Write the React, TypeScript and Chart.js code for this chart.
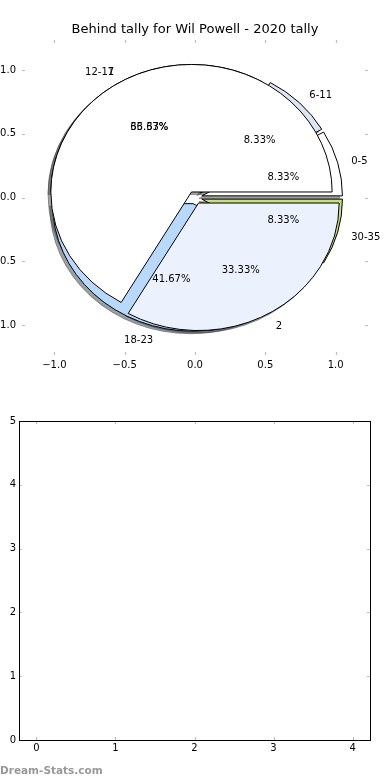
import React, { useEffect, useRef } from 'react';
import { Chart, registerables } from 'chart.js';

Chart.register(...registerables);
Chart.defaults.font.family = "'DejaVu Sans', sans-serif";
Chart.defaults.color = '#000';

const TITLE = 'Behind tally for Wil Powell - 2020 tally';
const AGE_LABELS = ['0-5', '6-11', '12-17', '18-23', '30-35'];
const AGE_VALUES = [1, 1, 4, 5, 1];
const AGE_COLORS = ['#ffffff', '#dbe5f4', '#f2f2f2', '#b8d8fc', '#c8e084'];
const TALLY_LABELS = ['1', '2'];
const TALLY_VALUES = [8, 4];
const TALLY_COLORS = ['#ffffff', '#ebf2fd'];
const EXPLODE = 0.05;
const PIE_TICKS = [-1.0, -0.5, 0.0, 0.5, 1.0];
const EMPTY_X_TICKS = [0, 1, 2, 3, 4];
const EMPTY_Y_TICKS = [0, 1, 2, 3, 4, 5];
const WATERMARK = 'Dream-Stats.com';

const FONT = "'DejaVu Sans', sans-serif";

function hexToRgb(h: string) {
  const n = parseInt(h.slice(1), 16);
  return [(n >> 16) & 255, (n >> 8) & 255, n & 255];
}

const innerTicksPlugin = (len: number, frame: boolean) => ({
  id: 'innerTicks',
  afterDraw(chart: any) {
    const { ctx, chartArea: a, scales } = chart;
    const x = scales.x;
    const y = scales.y;
    ctx.save();
    ctx.strokeStyle = '#bdbdbd';
    ctx.lineWidth = 1.2;
    ctx.beginPath();
    x.ticks.forEach((t: any) => {
      const p = Math.round(x.getPixelForValue(t.value)) + 0.5;
      ctx.moveTo(p, a.top);
      ctx.lineTo(p, a.top + len);
      ctx.moveTo(p, a.bottom);
      ctx.lineTo(p, a.bottom - len);
    });
    y.ticks.forEach((t: any) => {
      const p = Math.round(y.getPixelForValue(t.value)) + 0.5;
      ctx.moveTo(a.left, p);
      ctx.lineTo(a.left + len, p);
      ctx.moveTo(a.right, p);
      ctx.lineTo(a.right - len, p);
    });
    ctx.stroke();
    if (frame) {
      ctx.strokeStyle = '#000';
      ctx.lineWidth = 1;
      ctx.strokeRect(Math.round(a.left) + 0.5, Math.round(a.top) + 0.5, Math.round(a.right - a.left), Math.round(a.bottom - a.top));
    }
    ctx.restore();
  },
});

const piePlugin = {
  id: 'ellipsePies',
  afterDatasetsDraw(chart: any) {
    const { ctx, scales } = chart;
    const x = scales.x;
    const y = scales.y;
    const pies = [
      { values: AGE_VALUES, colors: AGE_COLORS, labels: AGE_LABELS },
      { values: TALLY_VALUES, colors: TALLY_COLORS, labels: TALLY_LABELS },
    ];
    const all: any[] = [];
    pies.forEach((p) => {
      const total = p.values.reduce((s, v) => s + v, 0);
      let a = 0;
      const ws: any[] = [];
      p.values.forEach((v, i) => {
        const a1 = a;
        const a2 = a + (360 * v) / total;
        a = a2;
        const mid = ((a1 + a2) / 2) * Math.PI / 180;
        ws.push({
          a1: (a1 * Math.PI) / 180,
          a2: (a2 * Math.PI) / 180,
          mid,
          ox: EXPLODE * Math.cos(mid),
          oy: EXPLODE * Math.sin(mid),
          color: p.colors[i],
          label: p.labels[i],
          pct: (100 * v) / total,
        });
      });
      all.push(ws);
    });
    const path = (w: any, dx: number, dy: number) => {
      const cx = x.getPixelForValue(w.ox + dx);
      const cy = y.getPixelForValue(w.oy + dy);
      const rx = x.getPixelForValue(w.ox + dx + 1) - cx;
      const ry = cy - y.getPixelForValue(w.oy + dy + 1);
      ctx.beginPath();
      ctx.moveTo(cx, cy);
      ctx.ellipse(cx, cy, rx, ry, 0, -w.a1, -w.a2, true);
      ctx.closePath();
    };
    ctx.save();
    ctx.lineJoin = 'miter';
    all.forEach((ws) =>
      ws.forEach((w: any) => {
        const [r, g, b] = hexToRgb(w.color);
        const c = `rgba(${Math.round(r * 0.3)},${Math.round(g * 0.3)},${Math.round(b * 0.3)},0.5)`;
        path(w, -0.02, -0.02);
        ctx.fillStyle = c;
        ctx.fill();
        ctx.strokeStyle = c;
        ctx.lineWidth = 1;
        ctx.stroke();
      })
    );
    all.forEach((ws) =>
      ws.forEach((w: any) => {
        path(w, 0, 0);
        ctx.fillStyle = w.color;
        ctx.fill();
        ctx.strokeStyle = '#000';
        ctx.lineWidth = 1;
        ctx.stroke();
      })
    );
    ctx.fillStyle = '#000';
    ctx.font = `10px ${FONT}`;
    ctx.textBaseline = 'middle';
    const dyText = 1.5;
    all.forEach((ws) =>
      ws.forEach((w: any) => {
        const lx = w.ox + 1.1 * Math.cos(w.mid);
        const ly = w.oy + 1.1 * Math.sin(w.mid);
        ctx.textAlign = lx > 0 ? 'left' : 'right';
        ctx.fillText(w.label, x.getPixelForValue(lx), y.getPixelForValue(ly) + dyText);
        const tx = w.ox + 0.6 * Math.cos(w.mid);
        const ty = w.oy + 0.6 * Math.sin(w.mid);
        ctx.textAlign = 'center';
        ctx.fillText(`${w.pct.toFixed(2)}%`, x.getPixelForValue(tx), y.getPixelForValue(ty) + dyText);
      })
    );
    ctx.restore();
  },
};

function PieAxes() {
  const ref = useRef<HTMLCanvasElement>(null);
  useEffect(() => {
    const chart = new Chart(ref.current as HTMLCanvasElement, {
      type: 'scatter',
      data: { datasets: [] },
      options: {
        animation: false,
        responsive: false,
        layout: { padding: 0 },
        plugins: {
          legend: { display: false },
          tooltip: { enabled: false },
          title: {
            display: true,
            text: TITLE,
            color: '#000',
            font: { family: FONT, size: 13, weight: 'normal' },
            padding: { top: 22, bottom: 2.4 },
          },
        },
        scales: {
          x: {
            type: 'linear',
            min: -1.23,
            max: 1.23,
            grid: { display: false, drawTicks: false },
            border: { display: false },
            afterFit: (s: any) => { s.height = 35; },
            afterBuildTicks: (s: any) => { s.ticks = PIE_TICKS.map((v) => ({ value: v })); },
            ticks: {
              padding: 4,
              font: { family: FONT, size: 10 },
              color: '#000',
              maxRotation: 0,
              callback: (v: any) => Number(v).toFixed(1).replace('-', '\u2212'),
            },
          },
          y: {
            type: 'linear',
            min: -1.235,
            max: 1.235,
            grid: { display: false, drawTicks: false },
            border: { display: false },
            afterFit: (s: any) => { s.width = 22; },
            afterBuildTicks: (s: any) => { s.ticks = PIE_TICKS.map((v) => ({ value: v })); },
            ticks: {
              padding: 6,
              font: { family: FONT, size: 10 },
              color: '#000',
              callback: (v: any) => Number(v).toFixed(1).replace('-', '\u2212'),
            },
          },
          yRight: {
            type: 'linear',
            position: 'right',
            min: -1.235,
            max: 1.235,
            grid: { display: false, drawTicks: false },
            border: { display: false },
            ticks: { display: false },
            afterFit: (s: any) => { s.width = 22; },
          },
        },
      },
      plugins: [piePlugin, innerTicksPlugin(3, false)],
    } as any);
    return () => chart.destroy();
  }, []);
  return <canvas ref={ref} width={390} height={390} style={{ position: 'absolute', left: 0, top: 0, display: 'block' }} />;
}

function EmptyAxes() {
  const ref = useRef<HTMLCanvasElement>(null);
  useEffect(() => {
    const chart = new Chart(ref.current as HTMLCanvasElement, {
      type: 'scatter',
      data: { datasets: [] },
      options: {
        animation: false,
        responsive: false,
        layout: { padding: { left: 0, right: 20, top: 31, bottom: 0 } },
        plugins: { legend: { display: false }, tooltip: { enabled: false }, title: { display: false } },
        scales: {
          x: {
            type: 'linear',
            min: -0.22,
            max: 4.22,
            grid: { display: false, drawTicks: false },
            border: { display: false },
            afterFit: (s: any) => { s.height = 40; },
            afterBuildTicks: (s: any) => { s.ticks = EMPTY_X_TICKS.map((v) => ({ value: v })); },
            ticks: { padding: 2, font: { family: FONT, size: 10 }, color: '#000', maxRotation: 0, callback: (v: any) => String(v) },
          },
          y: {
            type: 'linear',
            min: 0,
            max: 5,
            grid: { display: false, drawTicks: false },
            border: { display: false },
            afterFit: (s: any) => { s.width = 19; },
            afterBuildTicks: (s: any) => { s.ticks = EMPTY_Y_TICKS.map((v) => ({ value: v })); },
            ticks: { padding: 3, font: { family: FONT, size: 10 }, color: '#000', callback: (v: any) => String(v) },
          },
        },
      },
      plugins: [innerTicksPlugin(3, true)],
    } as any);
    return () => chart.destroy();
  }, []);
  return <canvas ref={ref} width={390} height={390} style={{ position: 'absolute', left: 0, top: 390, display: 'block' }} />;
}

export default function App() {
  return (
    <div style={{ position: 'absolute', left: 0, top: 0, width: 390, height: 780, background: '#fff', overflow: 'hidden' }}>
      <PieAxes />
      <EmptyAxes />
      <div
        style={{
          position: 'absolute',
          left: 0,
          top: 763,
          fontFamily: FONT,
          fontSize: 10.5,
          fontWeight: 'bold',
          color: '#999',
          lineHeight: '14px',
          whiteSpace: 'nowrap',
        }}
      >
        {WATERMARK}
      </div>
    </div>
  );
}
